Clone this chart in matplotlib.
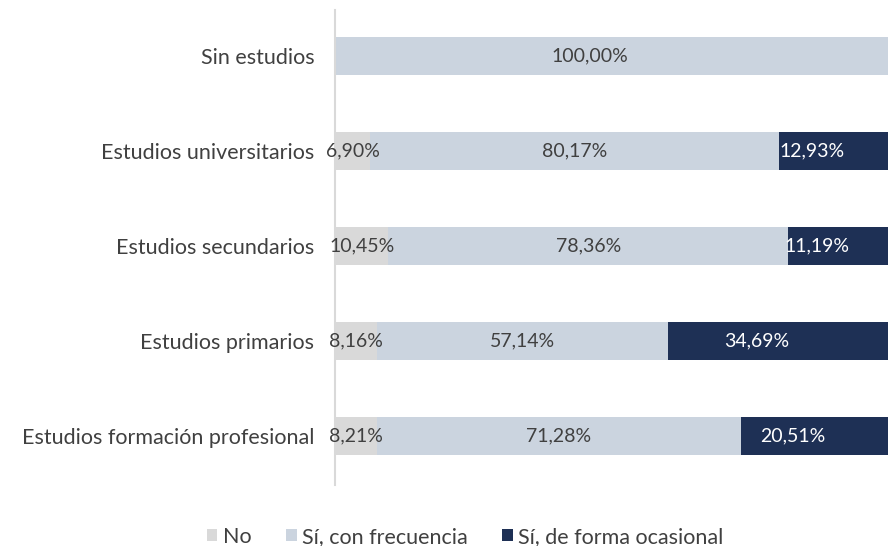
import matplotlib
matplotlib.use("Agg")
import matplotlib.pyplot as plt
import numpy as np

categories = ["Estudios formación profesional", "Estudios primarios",
              "Estudios secundarios", "Estudios universitarios", "Sin estudios"]
no_vals = [8.21, 8.16, 10.45, 6.90, 0.0]
frec_vals = [71.28, 57.14, 78.36, 80.17, 100.00]
ocas_vals = [20.51, 34.69, 11.19, 12.93, 0.0]
series_names = ["No", "Sí, con frecuencia", "Sí, de forma ocasional"]

colors = ["#D9D9D9", "#CBD4DF", "#1E3055"]
text_colors = ["#404040", "#404040", "#FFFFFF"]

plt.rcParams['font.family'] = ['Lato', 'DejaVu Sans']

fig = plt.figure(figsize=(8.88, 5.46), dpi=100)
ax = fig.add_axes([335/888, 1-485/546, 1-335/888, (485-10)/546])

XMAX = 108.4
y = np.arange(len(categories))
series = [no_vals, frec_vals, ocas_vals]
left = np.zeros(len(categories))
n = len(categories)
for si, vals in enumerate(series):
    vals = np.array(vals)
    # the last visible segment of each bar runs on to the plot edge, as in the reference
    widths = vals.copy()
    for i in range(n):
        later = sum(series[k][i] for k in range(si+1, len(series)))
        if vals[i] > 0 and later == 0:
            widths[i] = XMAX - left[i]
    ax.barh(y, widths, left=left, height=0.41, color=colors[si],
            label=series_names[si], linewidth=0)
    for i in range(n):
        if vals[i] > 0:
            ax.text(left[i] + vals[i]/2, y[i], f"{vals[i]:.2f}".replace('.', ',') + '%',
                    ha='center', va='center', fontsize=14, color=text_colors[si])
    left = left + vals

ax.set_xlim(0, XMAX)
ax.set_ylim(-0.516, 4.484)
ax.set_yticks(y)
ax.set_yticklabels(categories, fontsize=15.5, color='#404040')
ax.tick_params(axis='y', length=0, pad=15)
ax.set_xticks([])
for s in ['top', 'right', 'bottom']:
    ax.spines[s].set_visible(False)
ax.spines['left'].set_color('#D9D9D9')
ax.spines['left'].set_linewidth(1.5)

handles, labels = ax.get_legend_handles_labels()
fig.legend(handles, labels, loc='center', bbox_to_anchor=(465/888, 1-537/546),
           ncol=3, frameon=False, fontsize=15.5, handlelength=0.5, handleheight=0.5,
           handletextpad=0.25, columnspacing=1.6, labelcolor='#404040')

fig.savefig("out.png", dpi=100)
